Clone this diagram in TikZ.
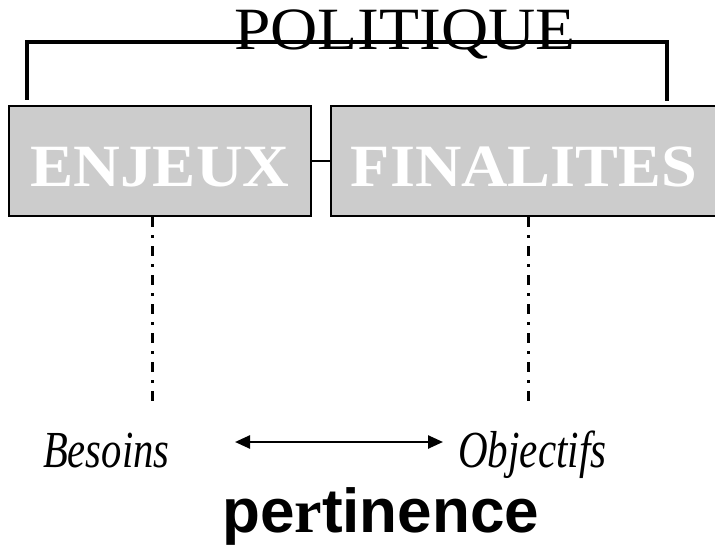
\documentclass[tikz,border=0pt]{standalone}
\usepackage{fontspec}
\usepackage{graphicx}
\setmainfont{Liberation Serif}
\newfontfamily\sansb{Liberation Sans}
\usetikzlibrary{arrows.meta}
\definecolor{boxgray}{HTML}{CCCCCC}
\tikzset{
  box/.style={draw=black, line width=2.5pt, fill=boxgray, inner sep=0pt},
  boxlbl/.style={text=white, font=\fontsize{60}{60}\selectfont\bfseries, inner sep=0pt, anchor=base},
  brack/.style={line width=4.5pt, line join=miter},
  dd/.style={line width=3pt, dash pattern=on 10pt off 8pt on 3pt off 8pt},
  itl/.style={font=\fontsize{52}{52}\selectfont\itshape, inner sep=0pt, anchor=base west},
  arr/.style={line width=2.5pt, {Triangle[length=15pt,width=13pt]}-{Triangle[length=15pt,width=13pt]}}
}
\begin{document}
\begin{tikzpicture}[x=1pt,y=-1pt]
\useasboundingbox (0,0) rectangle (715,545);
\begin{scope}
\clip (0,0) rectangle (715,545);
% boxes
\node[box, minimum width=302pt, minimum height=110pt] (enj) at (160,161) {};
\node[box, minimum width=400pt, minimum height=110pt] (fin) at (531,161) {};
\draw[line width=2pt] (enj.east) -- (fin.west);
\node[boxlbl] (enjt) at (160,187) {\scalebox{1.08}[1]{ENJEUX}};
\node[boxlbl] (fint) at (524,187) {\scalebox{1.07}[1]{FINALITES}};
% bracket
\coordinate (bl) at (27,100);
\coordinate (br) at (667,101);
\coordinate (bt) at (0,42);
\draw[brack] (bl) -- (bl |- bt) -- (br |- bt) -- (br);
\node[inner sep=0pt, anchor=base, font=\fontsize{60}{60}\selectfont] (pol) at (405,50) {\scalebox{1.09}[1]{POLITIQUE}};
% dash-dot lines
\coordinate (d1) at (152,407);
\coordinate (d2) at (528,407);
\draw[dd] (enj.south -| d1) -- (d1);
\draw[dd] (fin.south -| d2) -- (d2);
% bottom labels
\node[itl] (bes) at (43,467) {\scalebox{0.78}[1]{Besoins}};
\node[itl] (obj) at (458,467) {\scalebox{0.79}[1]{Objectifs}};
\coordinate (a1) at (235,442);
\coordinate (a2) at (443,442);
\draw[arr] (a1) -- (a2);
\node[inner sep=0pt, anchor=base west, font=\fontsize{62}{62}\sansb\bfseries] (per) at (222,532) {pe{\rmfamily\bfseries r}tinence};
\end{scope}
\end{tikzpicture}
\end{document}
